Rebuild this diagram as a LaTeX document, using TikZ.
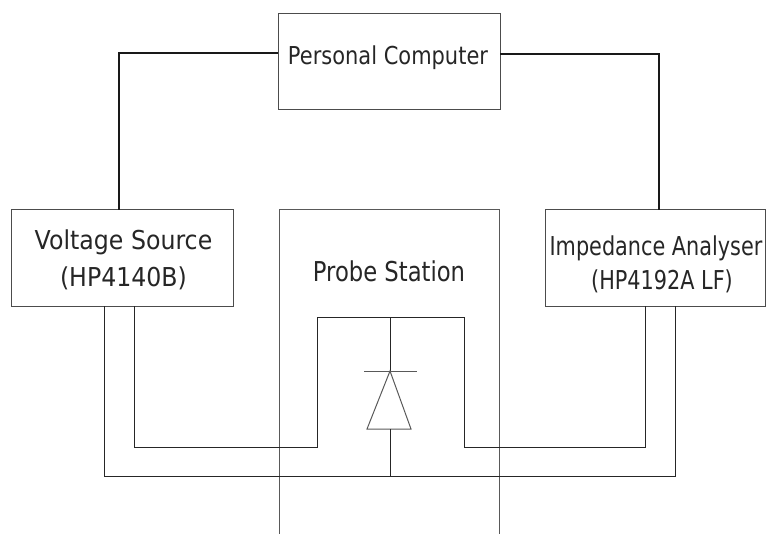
\documentclass[tikz,border=0pt]{standalone}
\usepackage{fontspec}
\setmainfont{DejaVu Sans}
\newfontfamily\fpc[FakeStretch=0.85]{DejaVu Sans}
\newfontfamily\fvs[FakeStretch=0.91]{DejaVu Sans}
\newfontfamily\fia[FakeStretch=0.80]{DejaVu Sans}
\newfontfamily\fps[FakeStretch=0.83]{DejaVu Sans}
\usetikzlibrary{calc}
\tikzset{
  x=0.75pt,y=-0.75pt,
  boxnode/.style={draw=black!70,line width=0.75pt,rectangle,inner sep=0pt},
  thinwire/.style={draw=black!85,line width=0.7pt},
  grayline/.style={draw=black!65,line width=0.75pt},
  thickwire/.style={draw=black!90,line width=1.7pt},
  labelnode/.style={inner sep=0pt,text=black!85,align=center},
}
\begin{document}
\begin{tikzpicture}
\useasboundingbox (0,0) rectangle (766,534);
\node[boxnode,minimum width=166.5pt,minimum height=72.5pt] (pc) at (389,61.5) {};
\node[labelnode,font=\fpc\fontsize{18.5}{23}\selectfont] (pclabel) at (388,58) {Personal Computer};
\node[boxnode,minimum width=166.5pt,minimum height=72pt] (vs) at (122,258) {};
\node[labelnode,font=\fvs\fontsize{19.5}{28}\selectfont] (vslabel) at (123.5,260) {Voltage Source\\(HP4140B)};
\node[boxnode,minimum width=165.5pt,minimum height=72pt] (ia) at (655.5,258) {};
\node[labelnode,font=\fia\fontsize{19.5}{25.5}\selectfont] (ialabel) at (656,264) {Impedance Analyser\\\hspace*{9pt}(HP4192A LF)};
\coordinate (psbl) at (279,534);
\coordinate (pstl) at (279,210);
\coordinate (pstr) at (499,210);
\coordinate (psbr) at (499,534);
\draw[grayline] (psbl) -- (pstl) -- (pstr) -- (psbr);
\node[labelnode,font=\fps\fontsize{20.5}{25}\selectfont] (pslabel) at (389,271) {Probe Station};
% computer links
\coordinate (pcl) at (278,53);
\coordinate (pcr) at (500,54);
\coordinate (vstop) at (119,210);
\coordinate (iatop) at (659,210);
\draw[thickwire,line join=miter] (pcl) -| (vstop);
\draw[thickwire,line join=miter] (pcr) -| (iatop);
% inner wires
\coordinate (vsa) at (104,306);
\coordinate (vsb) at (134,306);
\coordinate (iaa) at (645,306);
\coordinate (iab) at (675,306);
\coordinate (l1) at (134,447);
\coordinate (l2) at (317,447);
\coordinate (l3) at (317,317);
\coordinate (l4) at (464,317);
\coordinate (l5) at (464,447);
\coordinate (l6) at (645,447);
\coordinate (b1) at (104,476);
\coordinate (b2) at (675,476);
\draw[thinwire] (vsb) -- (l1) -- (l2) -- (l3) -- (l4) -- (l5) -- (l6) -- (iaa);
\draw[thinwire] (vsa) -- (b1) -- (b2) -- (iab);
% diode
\coordinate (dtop) at (390,317);
\coordinate (apex) at (390,371);
\coordinate (bar1) at (364,371);
\coordinate (bar2) at (417,371);
\coordinate (tl) at (367,429);
\coordinate (tr) at (411,429);
\coordinate (base) at (390,429);
\coordinate (dbot) at (390,476);
\draw[thinwire] (dtop) -- (apex);
\draw[grayline] (bar1) -- (bar2);
\draw[grayline,line join=miter] (apex) -- (tl) -- (tr) -- cycle;
\draw[thinwire] (base) -- (dbot);
\end{tikzpicture}
\end{document}
